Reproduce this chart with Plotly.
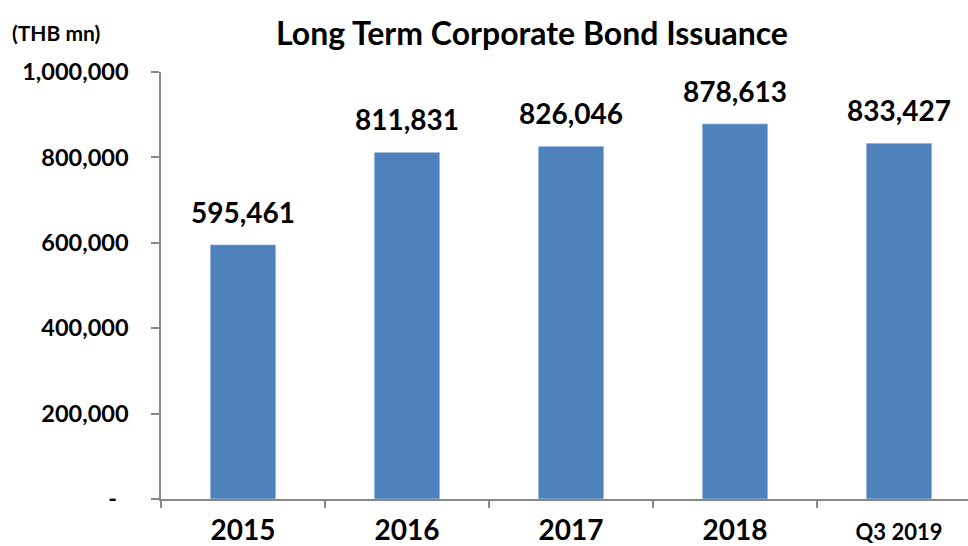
import plotly.graph_objects as go

categories = ["2015", "2016", "2017", "2018", "Q3 2019"]
tick_labels = ["2015", "2016", "2017", "2018", "<span style='font-size:22px'>Q3 2019</span>"]
values = [595461, 811831, 826046, 878613, 833427]
y_ticks = [0, 200000, 400000, 600000, 800000, 1000000]
y_tick_text = ["-\u00a0\u00a0", "200,000", "400,000", "600,000", "800,000", "1,000,000"]

FONT = "Lato"
BAR = "#4F81BD"
AXIS = "#888888"

fig = go.Figure()
fig.add_trace(go.Bar(x=list(range(len(categories))), y=values, marker_color=BAR,
                     width=0.4, hoverinfo="skip"))

for i, v in enumerate(values):
    fig.add_annotation(x=i, y=v, text=f"<b>{v:,}</b>", showarrow=False,
                       yanchor="bottom", yshift=14,
                       font=dict(family=FONT, size=28, color="black"))

fig.add_annotation(xref="paper", yref="paper", x=(532 - 161) / 807, y=1,
                   yshift=40, yanchor="middle", xanchor="center", showarrow=False,
                   text="<b>Long Term Corporate Bond Issuance</b>",
                   font=dict(family=FONT, size=32, color="black"))
fig.add_annotation(xref="paper", yref="paper", x=0, xshift=-151, y=1, yshift=40,
                   xanchor="left", yanchor="middle", showarrow=False,
                   text="<b>(THB mn)</b>",
                   font=dict(family=FONT, size=21, color="black"))

fig.update_layout(
    width=968, height=546,
    margin=dict(l=161, r=0, t=72, b=44),
    paper_bgcolor="white", plot_bgcolor="white",
    showlegend=False,
    bargap=0.6,
    font=dict(family=FONT, color="black"),
)
fig.update_xaxes(
    type="linear", range=[-0.5, 4.5 - 13 / 164],
    tickmode="array", tickvals=list(range(len(categories))), ticktext=[f"<b>{t}</b>" for t in tick_labels],
    ticks="", showline=True, linecolor=AXIS, linewidth=1.5, showgrid=False, zeroline=False,
    tickfont=dict(family=FONT, size=28, color="black"),
    ticklabelstandoff=6,
    fixedrange=True,
)
fig.update_xaxes(minor=dict(tickmode="array", tickvals=[-0.5, 0.5, 1.5, 2.5, 3.5],
                            ticks="outside", ticklen=7, tickcolor=AXIS, tickwidth=1.5))
fig.update_yaxes(
    range=[0, 1000000], tickmode="array", tickvals=y_ticks, ticktext=[f"<b>{t}</b>" for t in y_tick_text],
    ticks="outside", ticklen=8, tickcolor=AXIS, tickwidth=1.5,
    showline=True, linecolor=AXIS, linewidth=1.5, showgrid=False, zeroline=False,
    tickfont=dict(family=FONT, size=23.5, color="black"),
    ticklabelstandoff=18,
    fixedrange=True,
)

fig.write_html("out.html", config={"displayModeBar": False})
